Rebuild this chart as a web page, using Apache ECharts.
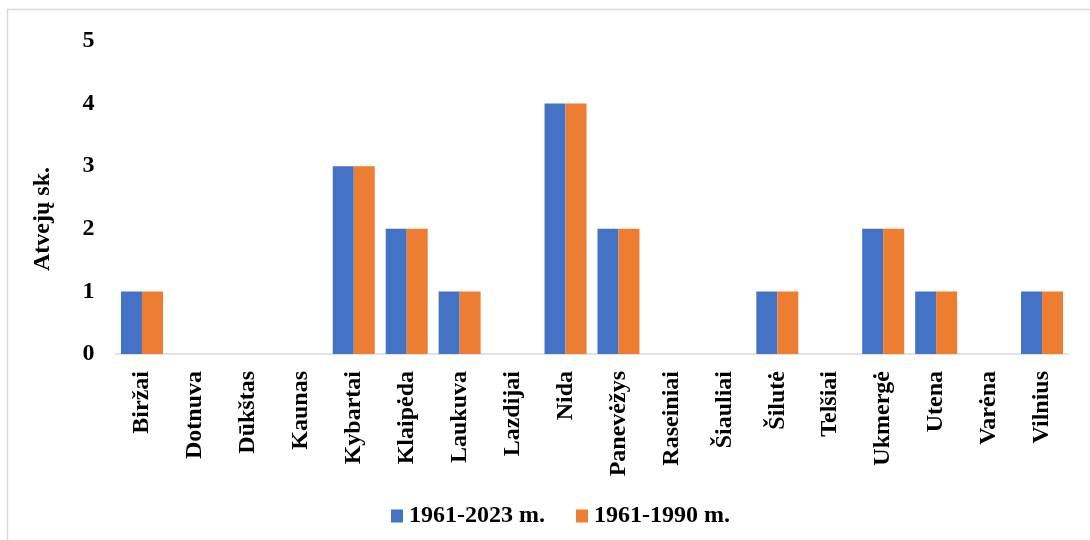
<!DOCTYPE html>
<html>
<head>
<meta charset="utf-8">
<script src="https://cdn.jsdelivr.net/npm/echarts@6/dist/echarts.min.js"></script>
<style>
  html, body { margin: 0; padding: 0; background: #ffffff; }
  #chart { width: 1090px; height: 540px; }
</style>
</head>
<body>
<div id="chart"></div>
<script>
// Weather stations
const stations = ['Biržai', 'Dotnuva', 'Dūkštas', 'Kaunas', 'Kybartai', 'Klaipėda', 'Laukuva',
  'Lazdijai', 'Nida', 'Panevėžys', 'Raseiniai', 'Šiauliai', 'Šilutė', 'Telšiai', 'Ukmergė',
  'Utena', 'Varėna', 'Vilnius'];

// Number of cases per station for each period
const period1Name = '1961-2023 m.';
const period1Values = [1, 0, 0, 0, 3, 2, 1, 0, 4, 2, 0, 0, 1, 0, 2, 1, 0, 1];
const period2Name = '1961-1990 m.';
const period2Values = [1, 0, 0, 0, 3, 2, 1, 0, 4, 2, 0, 0, 1, 0, 2, 1, 0, 1];

const yTicks = [0, 1, 2, 3, 4, 5];
const yTitle = 'Atvejų sk.';

const FONT = '"Liberation Serif", "Times New Roman", serif';
const FONT_SIZE = 24;
const chart = echarts.init(document.getElementById('chart'));

chart.setOption({
  animation: false,
  backgroundColor: '#ffffff',
  color: ['#4472C4', '#ED7D31'],
  grid: { left: 115.5, right: 21.5, top: 41, bottom: 186, containLabel: false },
  legend: {
    data: [period1Name, period2Name],
    top: 499,
    left: 386,
    itemWidth: 12,
    itemHeight: 13,
    itemGap: 31,
    icon: 'rect',
    textStyle: { fontFamily: FONT, fontWeight: 'bold', fontSize: FONT_SIZE, color: '#000000', padding: [0, 0, 0, 1] }
  },
  xAxis: {
    type: 'category',
    data: stations,
    axisLine: { lineStyle: { color: '#d9d9d9', width: 1.5 } },
    axisTick: { show: false },
    axisLabel: {
      rotate: 90,
      margin: 17,
      interval: 0,
      fontFamily: FONT,
      fontWeight: 'bold',
      fontSize: FONT_SIZE,
      color: '#000000'
    }
  },
  yAxis: {
    type: 'value',
    min: yTicks[0],
    max: yTicks[yTicks.length - 1],
    interval: 1,
    axisLine: { show: false },
    axisTick: { show: false },
    splitLine: { show: false },
    axisLabel: {
      margin: 21,
      fontFamily: FONT,
      fontWeight: 'bold',
      fontSize: FONT_SIZE,
      color: '#000000'
    }
  },
  graphic: [
    {
      type: 'rect',
      shape: { x: 7.5, y: 9.5, width: 1200, height: 600 },
      style: { fill: 'none', stroke: '#d9d9d9', lineWidth: 1.5 },
      silent: true,
      z: -1
    },
    {
      type: 'text',
      x: 43,
      y: 219,
      rotation: Math.PI / 2,
      style: {
        text: yTitle,
        fontFamily: FONT,
        fontWeight: 'bold',
        fontSize: FONT_SIZE,
        fill: '#000000',
        textAlign: 'center',
        textVerticalAlign: 'middle'
      }
    }
  ],
  series: [
    {
      name: period1Name,
      type: 'bar',
      data: period1Values,
      barWidth: 21,
      barGap: '0%'
    },
    {
      name: period2Name,
      type: 'bar',
      data: period2Values,
      barWidth: 21,
      barGap: '0%'
    }
  ]
});
</script>
</body>
</html>
